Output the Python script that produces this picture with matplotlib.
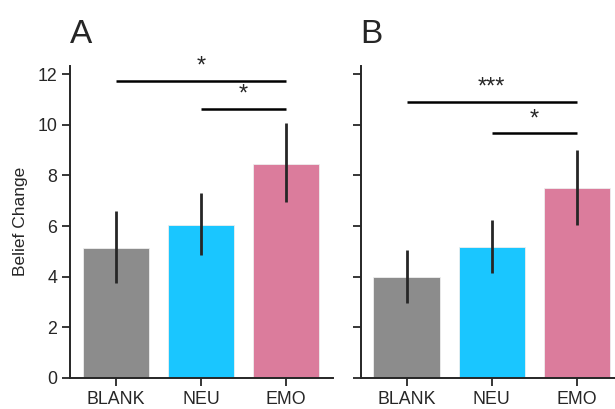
import matplotlib
matplotlib.use("Agg")
import matplotlib.pyplot as plt

categories = ["BLANK", "NEU", "EMO"]
colors = ["#8c8c8c", "#1ac6ff", "#db7c9c"]

a_means = [5.12, 6.04, 8.45]
a_lo = [3.74, 4.84, 6.93]
a_hi = [6.59, 7.31, 10.05]

b_means = [3.97, 5.16, 7.51]
b_lo = [2.95, 4.16, 6.06]
b_hi = [5.05, 6.22, 9.02]

a_sig = [(0, 2, 11.74, "*"), (1, 2, 10.62, "*")]
b_sig = [(0, 2, 10.91, "***"), (1, 2, 9.67, "*")]

yticks = [0, 2, 4, 6, 8, 10, 12]

plt.rcParams['font.family'] = ['Liberation Sans', 'DejaVu Sans']
fig = plt.figure(figsize=(6.15, 4.09), dpi=100)

W, H = 615, 409
def rect(x0, x1, ytop, ybot):
    return [x0 / W, (H - ybot) / H, (x1 - x0) / W, (ybot - ytop) / H]

axA = fig.add_axes(rect(70, 333, 65.7, 378))
axB = fig.add_axes(rect(360.7, 623.7, 65.7, 378))

dark = "#262626"

def draw(ax, means, lo, hi, sig, letter, ylabel):
    x = list(range(len(categories)))
    ax.bar(x, means, width=0.78, color=colors, edgecolor="#eeeeee", linewidth=0.6, zorder=2)
    yerr = [[m - l for m, l in zip(means, lo)], [h - m for m, h in zip(means, hi)]]
    ax.errorbar(x, means, yerr=yerr, fmt="none", ecolor=dark, elinewidth=2.0, capsize=0, zorder=3)
    ax.set_xlim(-0.54, 2.55)
    ax.set_ylim(0, 12.33)
    ax.set_xticks(x)
    ax.set_xticklabels(categories, fontsize=12.8, color=dark)
    ax.set_yticks(yticks)
    for s in ["top", "right"]:
        ax.spines[s].set_visible(False)
    for s in ["left", "bottom"]:
        ax.spines[s].set_linewidth(1.4)
        ax.spines[s].set_color(dark)
    ax.tick_params(axis="both", direction="out", length=6, width=1.3, color=dark,
                   labelsize=12.8, labelcolor=dark, pad=3)
    if ylabel:
        ax.set_ylabel(ylabel, fontsize=12.5, color=dark, labelpad=7)
    else:
        ax.set_yticklabels([])
    for i, j, y, txt in sig:
        ax.plot([i, j], [y, y], color="black", linewidth=1.8, solid_capstyle="butt", zorder=4)
        ax.text((i + j) / 2, y + 0.12, txt, ha="center", va="bottom", fontsize=17, color=dark)
    ax.text(0.0, 1.05, letter, transform=ax.transAxes, fontsize=24, color=dark,
            ha="left", va="bottom")

draw(axA, a_means, a_lo, a_hi, a_sig, "A", "Belief Change")
draw(axB, b_means, b_lo, b_hi, b_sig, "B", None)

fig.savefig("out.png", dpi=100)
